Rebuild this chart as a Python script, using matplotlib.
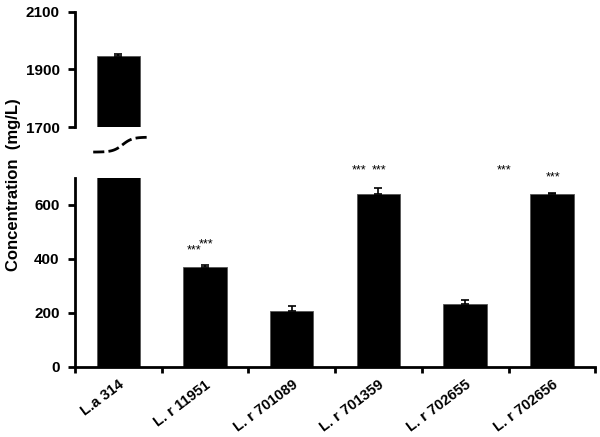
import matplotlib
matplotlib.use("Agg")
import matplotlib.pyplot as plt
import numpy as np

plt.rcParams["font.family"] = ["Liberation Sans", "DejaVu Sans"]
plt.rcParams["font.weight"] = "bold"

strains = ["L.a 314", "L. r 11951", "L. r 701089", "L. r 701359", "L. r 702655", "L. r 702656"]
conc = [1948, 368, 207, 640, 232, 640]
err = [5, 9, 19, 22, 15, 3]
# significance marks: (x in category units, y value)
stars_x = [0.87, 1.01, 2.78, 3.01, 4.45, 5.01]
stars_y = [430, 453, 726, 726, 727, 700]

x = np.arange(len(strains))
fig = plt.figure(figsize=(6, 4.37), dpi=100)
ax_top = fig.add_axes([0.125, 0.709, 0.867, 0.264])
ax = fig.add_axes([0.125, 0.161, 0.867, 0.432])

for a in (ax, ax_top):
    a.bar(x, conc, width=0.5, color="black", edgecolor="#555555", linewidth=0.6,
          yerr=[np.zeros(len(err)), err], error_kw=dict(ecolor="black", elinewidth=1.2, capsize=3, capthick=1.2))
    a.set_xlim(-0.5, len(strains) - 0.5)
    for s in ["top", "right"]:
        a.spines[s].set_visible(False)
    a.spines["left"].set_linewidth(2)
    a.tick_params(axis="y", direction="out", length=5, width=2, labelsize=11, pad=6)

ax.set_ylim(0, 700)
ax.set_yticks([0, 200, 400, 600])
ax.spines["bottom"].set_linewidth(2)
ax.set_xticks(np.arange(-0.5, len(strains)), minor=True)
ax.set_xticks(x)
ax.set_xticklabels(strains, rotation=37, ha="right", va="top", rotation_mode="anchor", fontsize=10.5)
ax.tick_params(axis="x", which="major", length=0, pad=8)
ax.tick_params(axis="x", which="minor", length=4, width=2, direction="out")

ax_top.set_ylim(1700, 2100)
ax_top.set_yticks([1700, 1900, 2100])
ax_top.spines["bottom"].set_visible(False)
ax_top.set_xticks([])

for sx, sy in zip(stars_x, stars_y):
    ax.text(sx, sy, "***", ha="center", va="center", fontsize=9, fontweight="normal", clip_on=False)

# broken-axis marker
t = np.linspace(-0.29, 0.365, 60)
yy = 0.652 + 0.034 * (np.tanh((t - 0.05) * 9) + 1) / 2
trans = matplotlib.transforms.blended_transform_factory(ax.transData, fig.transFigure)
ax.plot(t, yy, color="black", lw=2, ls=(0, (4, 1.5)), transform=trans, clip_on=False)

fig.text(0.022, 0.577, "Concentration  (mg/L)", rotation=90, ha="center", va="center", fontsize=12)

fig.savefig("out.png", dpi=100)
